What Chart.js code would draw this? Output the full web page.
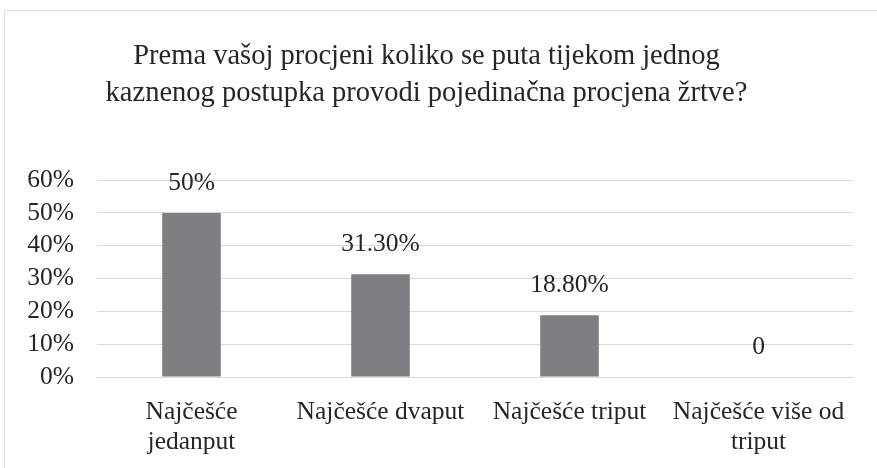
<!DOCTYPE html>
<html>
<head>
<meta charset="utf-8">
<script src="https://cdn.jsdelivr.net/npm/chart.js@4"></script>
<style>
  html, body { margin: 0; padding: 0; background: #fff; overflow: hidden; }
  #frame { position: absolute; left: 4px; top: 10px; width: 900px; height: 500px; border: 1px solid #dedede; }
  #wrap { position: absolute; left: 0; top: 0; width: 877px; height: 468px; }
</style>
</head>
<body>
<div id="frame"></div>
<div id="wrap"><canvas id="chart" width="877" height="468"></canvas></div>
<script>
const categories = [
    ["Najčešće", "jedanput"],
    "Najčešće dvaput",
    "Najčešće triput",
    ["Najčešće više od", "triput"]
];
const values = [50, 31.3, 18.8, 0];
const valueLabels = ["50%", "31.30%", "18.80%", "0"];
const titleLines = [
    "Prema vašoj procjeni koliko se puta tijekom jednog",
    "kaznenog postupka provodi pojedinačna procjena žrtve?"
];

const textColor = '#262626';
const serif = "'Liberation Serif', 'Times New Roman', serif";

// labels above each bar
const barLabels = {
    id: 'barLabels',
    afterDatasetsDraw(chart) {
        const ctx = chart.ctx;
        const meta = chart.getDatasetMeta(0);
        ctx.save();
        ctx.font = "25.5px " + serif;
        ctx.fillStyle = textColor;
        ctx.textAlign = 'center';
        ctx.textBaseline = 'middle';
        meta.data.forEach((bar, i) => {
            ctx.fillText(valueLabels[i], bar.x, bar.y - 30);
        });
        ctx.restore();
    }
};

new Chart(document.getElementById("chart").getContext("2d"), {
    type: 'bar',
    data: {
        labels: categories,
        datasets: [{
            data: values,
            backgroundColor: '#7e7f82',
            barPercentage: 0.31,
            categoryPercentage: 1
        }]
    },
    options: {
        responsive: false,
        animation: false,
        layout: { padding: { left: 0, right: 24, top: 0, bottom: 0 } },
        plugins: {
            legend: { display: false },
            tooltip: { enabled: false },
            title: {
                display: true,
                text: titleLines,
                color: textColor,
                font: { family: serif, size: 28.5, weight: 'normal', lineHeight: 1.3 },
                padding: { top: 38, bottom: 68 }
            }
        },
        scales: {
            x: {
                grid: { display: false, drawTicks: false },
                border: { display: true, color: '#d9d9d9', width: 1 },
                ticks: {
                    color: textColor,
                    font: { family: serif, size: 25.5, lineHeight: 1.18 },
                    padding: 20,
                    maxRotation: 0,
                    autoSkip: false
                },
                afterFit(scale) { scale.height = 91; }
            },
            y: {
                min: 0,
                max: 60,
                grid: { color: '#d9d9d9', drawTicks: false },
                border: { display: false },
                ticks: {
                    stepSize: 10,
                    autoSkip: false,
                    color: textColor,
                    font: { family: serif, size: 25.5 },
                    padding: 23,
                    callback: v => v + '%'
                },
                afterFit(scale) { scale.width = 97; }
            }
        }
    },
    plugins: [barLabels]
});
</script>
</body>
</html>
